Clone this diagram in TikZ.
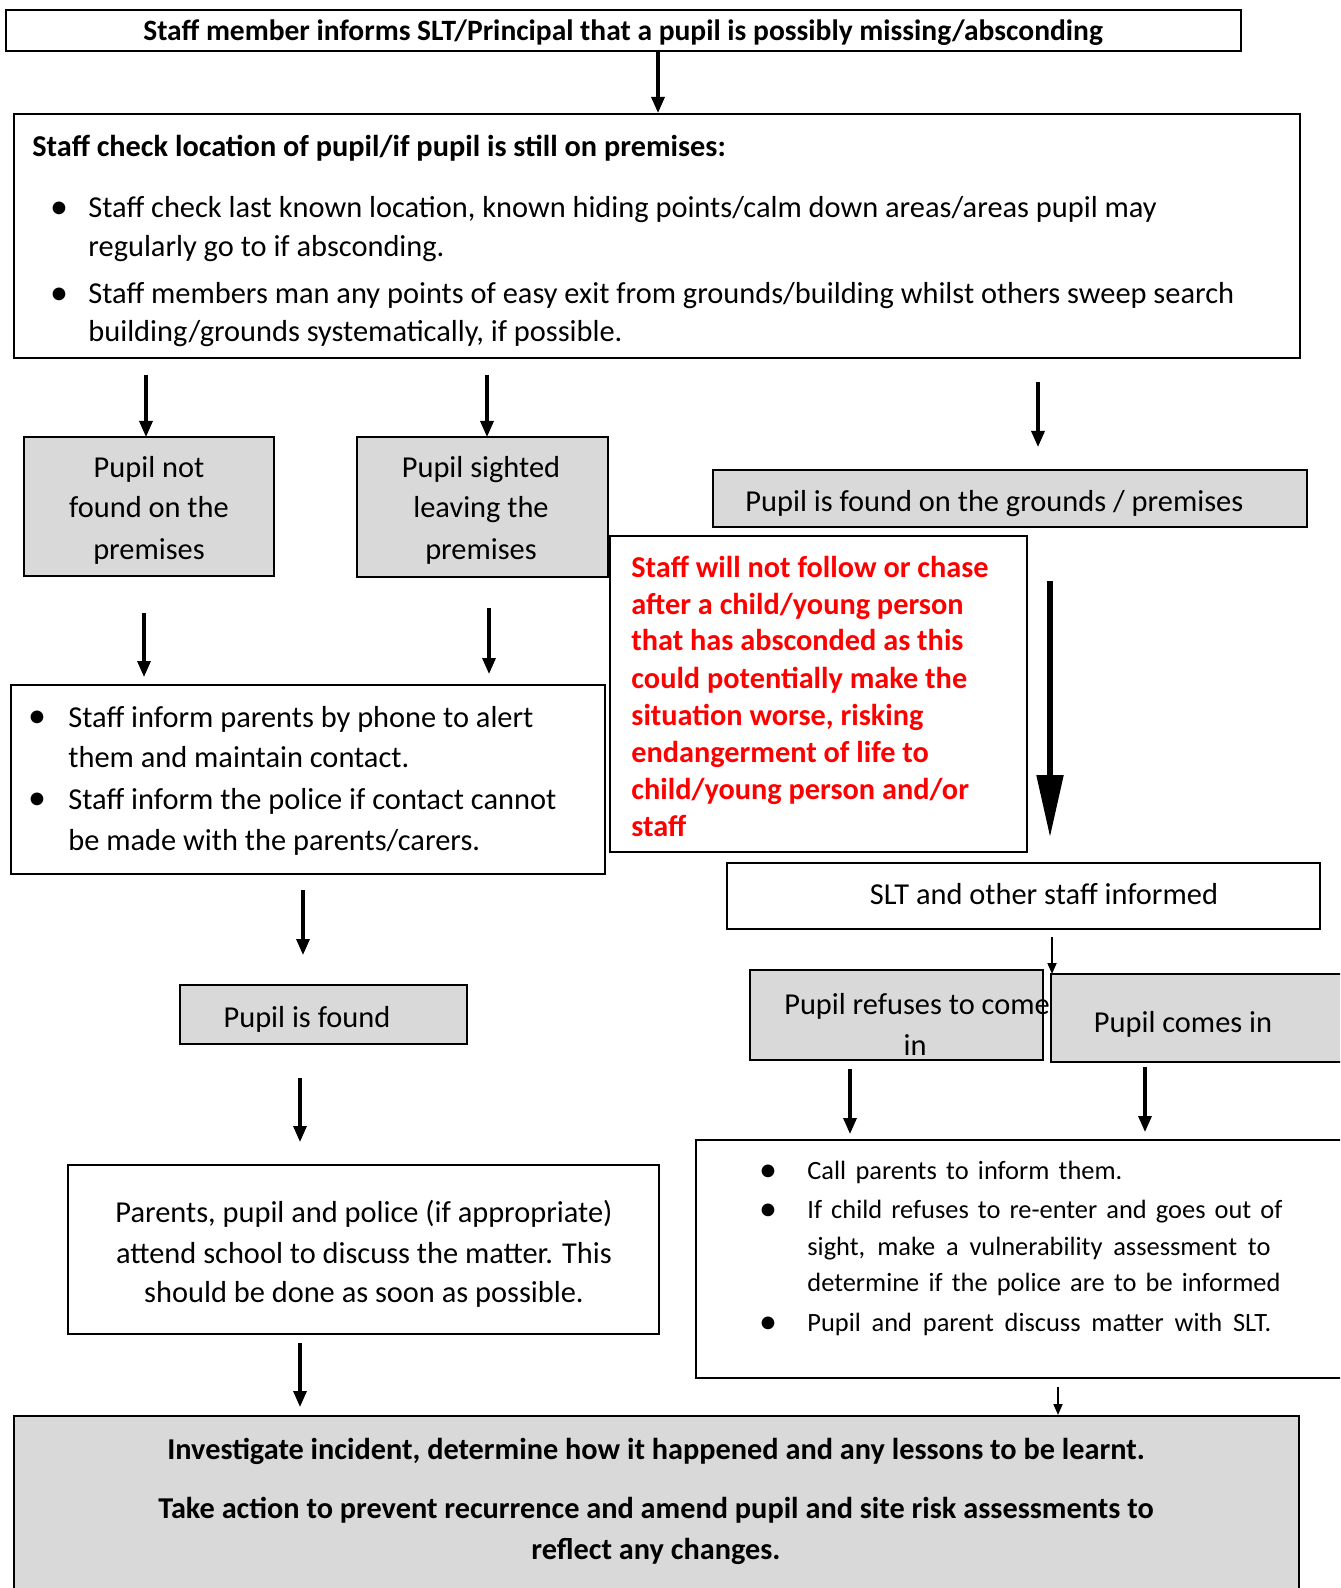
\documentclass[tikz,border=0pt]{standalone}
\usepackage{fontspec}
\setmainfont{Carlito}
\usetikzlibrary{arrows.meta}
\definecolor{boxgray}{HTML}{D9D9D9}
\definecolor{alertred}{HTML}{FF0000}
\tikzset{
 box/.style={draw=black, line width=1pt, inner sep=0pt},
 graybox/.style={box, fill=boxgray},
 txt/.style={inner sep=0pt, text height=12pt, text depth=1pt, font=\fontsize{15.2}{18}\selectfont},
 btxt/.style={inner sep=0pt, text height=12pt, text depth=1pt, font=\fontsize{15.15}{18}\selectfont\bfseries},
 ttxt/.style={inner sep=0pt, text height=12pt, text depth=1pt, font=\fontsize{14.75}{18}\selectfont\bfseries},
 rtxt/.style={btxt, text=alertred},
 stxt/.style={inner sep=0pt, text height=10.5pt, text depth=1.5pt, font=\fontsize{13.2}{16}\selectfont},
 bul/.style={inner sep=0pt, yshift=-1.5pt, font=\fontsize{18}{18}\selectfont},
 arr/.style={line width=1.6pt, -{Triangle[length=8pt,width=6.5pt]}},
 thinarr/.style={line width=0.9pt, -{Triangle[length=5.5pt,width=4.5pt]}},
 bigarr/.style={line width=2.6pt, -{Triangle[length=31pt,width=13pt]}},
}
\begin{document}
\begin{tikzpicture}[x=0.5pt,y=-0.5pt]
\useasboundingbox (0,0) rectangle (1340,1588);
\clip (0,0) rectangle (1340,1588);
\fill[white] (0,0) rectangle (1340,1588);

% ---------- boxes ----------
\node[box, line width=1.2pt, minimum width=617.5pt, minimum height=20.5pt] (top) at (623.5,30.5) {};
\node[box, minimum width=643pt, minimum height=122pt] (check) at (657,236) {};
\node[graybox, minimum width=125pt, minimum height=69.5pt] (notfound) at (149,506.5) {};
\node[graybox, minimum width=125.5pt, minimum height=70pt] (sighted) at (482.5,507) {};
\node[graybox, minimum width=297pt, minimum height=28.5pt] (grounds) at (1010,498.5) {};
\node[box, minimum width=208.5pt, minimum height=158pt] (warn) at (818.5,694) {};
\node[box, minimum width=297pt, minimum height=94.5pt] (inform) at (308,779.5) {};
\node[box, minimum width=296.5pt, minimum height=33pt] (slt) at (1023.5,896) {};
\node[graybox, minimum width=146.5pt, minimum height=45pt] (refuses) at (896.5,1015) {};
\node[graybox, line width=1.3pt, minimum width=149.5pt, minimum height=44pt] (comes) at (1200.5,1018) {};
\node[box, minimum width=327pt, minimum height=119pt] (callbox) at (1023,1259) {};
\node[graybox, minimum width=143.5pt, minimum height=29.5pt] (found) at (323.5,1014.5) {};
\node[box, minimum width=295.5pt, minimum height=84.5pt] (parents) at (363.5,1249.5) {};
\node[graybox, minimum width=642.5pt, minimum height=92pt] (investigate) at (656.5,1508) {};

% ---------- texts ----------
\node[ttxt] (toptxt) at (623,30) {Staff member informs SLT/Principal that a pupil is possibly missing/absconding};

\node[btxt, anchor=west] (chk0) at (32,146) {Staff check location of pupil/if pupil is still on premises:};
\node[bul] (chkb1) at (59,207) {•};
\node[txt, anchor=west] (chk1) at (88,207) {Staff check last known location, known hiding points/calm down areas/areas pupil may};
\node[txt, anchor=west] (chk2) at (88,246) {regularly go to if absconding.};
\node[bul] (chkb2) at (59,293) {•};
\node[txt, anchor=west] (chk3) at (88,293) {Staff members man any points of easy exit from grounds/building whilst others sweep search};
\node[txt, anchor=west] (chk4) at (88,331) {building/grounds systematically, if possible.};

\node[txt] (nf1) at (149,466) {Pupil not};
\node[txt] (nf2) at (149,506) {found on the};
\node[txt] (nf3) at (149,548) {premises};

\node[txt] (sl1) at (481,466) {Pupil sighted};
\node[txt] (sl2) at (481,506) {leaving the};
\node[txt] (sl3) at (481,548) {premises};

\node[txt, anchor=west] (gr1) at (745,500) {Pupil is found on the grounds / premises};

\node[rtxt, anchor=west] (w1) at (631,566) {Staff will not follow or chase};
\node[rtxt, anchor=west] (w2) at (631,603) {after a child/young person};
\node[rtxt, anchor=west] (w3) at (631,639) {that has absconded as this};
\node[rtxt, anchor=west] (w4) at (631,677) {could potentially make the};
\node[rtxt, anchor=west] (w5) at (631,714) {situation worse, risking};
\node[rtxt, anchor=west] (w6) at (631,751) {endangerment of life to};
\node[rtxt, anchor=west] (w7) at (631,788) {child/young person and/or};
\node[rtxt, anchor=west] (w8) at (631,825) {staff};

\node[bul] (inb1) at (37,716) {•};
\node[txt, anchor=west] (in1) at (68,716) {Staff inform parents by phone to alert};
\node[txt, anchor=west] (in2) at (68,756) {them and maintain contact.};
\node[bul] (inb2) at (37,798) {•};
\node[txt, anchor=west] (in3) at (68,798) {Staff inform the police if contact cannot};
\node[txt, anchor=west] (in4) at (68,839) {be made with the parents/carers.};

\node[txt] (slttxt) at (1044,893) {SLT and other staff informed};

\node[txt] (rf1) at (917,1003) {Pupil refuses to come};
\node[txt] (rf2) at (915,1044) {in};
\node[txt] (ci1) at (1183,1021) {Pupil comes in};

\node[bul] (cb1) at (768,1170) {•};
\node[stxt, anchor=west] (c1) at (807,1170) {\makebox[157.5pt][s]{Call parents to inform them.}};
\node[bul] (cb2) at (768,1209) {•};
\node[stxt, anchor=west] (c2) at (807,1209) {\makebox[237.5pt][s]{If child refuses to re-enter and goes out of}};
\node[stxt, anchor=west] (c3) at (807,1246) {\makebox[231.5pt][s]{sight, make a vulnerability assessment to}};
\node[stxt, anchor=west] (c4) at (807,1282) {\makebox[236.5pt][s]{determine if the police are to be informed}};
\node[bul] (cb3) at (768,1322) {•};
\node[stxt, anchor=west] (c5) at (807,1322) {\makebox[232pt][s]{Pupil and parent discuss matter with SLT.}};

\node[txt] (pftxt) at (307,1016) {Pupil is found};

\node[txt] (pa1) at (364,1211) {Parents, pupil and police (if appropriate)};
\node[txt] (pa2) at (364,1252) {attend school to discuss the matter. This};
\node[txt] (pa3) at (364,1291) {should be done as soon as possible.};

\node[btxt] (iv1) at (656,1448) {Investigate incident, determine how it happened and any lessons to be learnt.};
\node[btxt] (iv2) at (656,1507) {Take action to prevent recurrence and amend pupil and site risk assessments to};
\node[btxt] (iv3) at (656,1548) {reflect any changes.};

% ---------- connector end points ----------
\coordinate (a1s) at (146,375);  \coordinate (a1e) at (146,437);
\coordinate (a2s) at (487,375);  \coordinate (a2e) at (487,437);
\coordinate (a3s) at (1038,382); \coordinate (a3e) at (1038,447);
\coordinate (a4s) at (144,613);  \coordinate (a4e) at (144,677);
\coordinate (a5s) at (489,608);  \coordinate (a5e) at (489,674);
\coordinate (bgs) at (1050,581); \coordinate (bge) at (1050,837);
\coordinate (a6s) at (303,890);  \coordinate (a6e) at (303,955);
\coordinate (a7s) at (1052,937); \coordinate (a7e) at (1052,974);
\coordinate (a8s) at (300,1078); \coordinate (a8e) at (300,1142);
\coordinate (a9s) at (850,1069); \coordinate (a9e) at (850,1134);
\coordinate (a10s) at (1145,1067); \coordinate (a10e) at (1145,1132);
\coordinate (a11s) at (300,1343); \coordinate (a11e) at (300,1407);
\coordinate (a12s) at (1058,1387); \coordinate (a12e) at (1058,1415);

% ---------- connectors ----------
\draw[arr] (top.south -| 658,0) -- (check.north -| 658,0);
\draw[arr] (a1s) -- (a1e);
\draw[arr] (a2s) -- (a2e);
\draw[arr] (a3s) -- (a3e);
\draw[arr] (a4s) -- (a4e);
\draw[arr] (a5s) -- (a5e);
\draw[bigarr] (bgs) -- (bge);
\draw[arr] (a6s) -- (a6e);
\draw[thinarr] (a7s) -- (a7e);
\draw[arr] (a8s) -- (a8e);
\draw[arr] (a9s) -- (a9e);
\draw[arr] (a10s) -- (a10e);
\draw[arr] (a11s) -- (a11e);
\draw[thinarr] (a12s) -- (a12e);
\end{tikzpicture}
\end{document}
